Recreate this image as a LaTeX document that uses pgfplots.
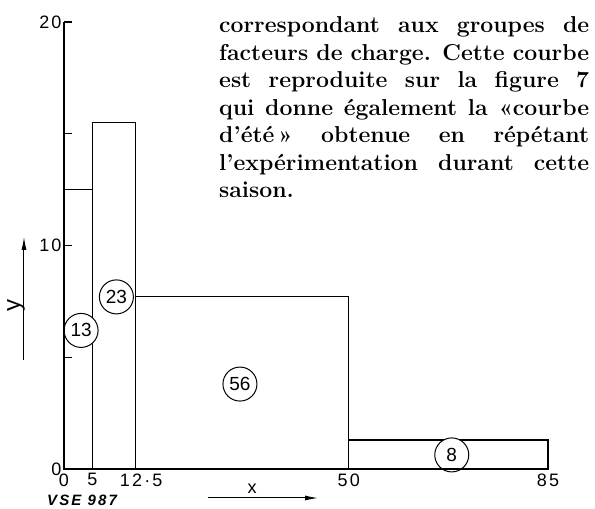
\documentclass[border=0pt]{standalone}
\usepackage{fontspec}
\newfontfamily\labelfont[LetterSpace=12]{Liberation Sans}
\newfontfamily\circfont{Liberation Sans}
\newfontfamily\refont[LetterSpace=14]{Liberation Sans}
\usepackage{pgfplots}
\pgfplotsset{compat=1.18}
\usetikzlibrary{arrows.meta}

\newcommand{\txtline}[1]{\makebox[370bp][s]{#1}}

\begin{document}
\begin{tikzpicture}[x=1bp,y=1bp]
  % page = 595 x 509 bp, axis origin at (64,469) px from top left
  \path[use as bounding box] (-64,-40) rectangle (531,469);
  \begin{axis}[
      at={(0,0)}, anchor=origin,
      scale only axis, width=484bp, height=447bp,
      xmin=0, xmax=85, ymin=0, ymax=20,
      axis lines=left, axis line style={-, line width=1.3bp},
      axis on top,
      xtick={0,5,12.5,50,85},
      xticklabels={0,5,\hspace{12bp}12·5,50,85},
      xtick style={draw=none},
      ytick={0,5,10,15,20},
      yticklabels={0,,10,,20},
      ytick style={black, line width=1.2bp},
      major tick length=8bp, tick align=inside,
      ticklabel style={font=\labelfont\fontsize{18bp}{18bp}\selectfont},
      xticklabel style={yshift=-1bp},
      yticklabel style={xshift=1bp},
      clip=false,
    ]
    \addplot[ybar interval, draw=black, fill=white, line width=1.2bp]
      coordinates {(0,12.5) (5,15.5) (12.5,7.7) (50,1.3) (85,1.3)};
    \tikzset{cnum/.style={circle, draw=black, line width=1bp, fill=white,
        minimum size=34bp, inner sep=0pt,
        font=\circfont\fontsize{19bp}{19bp}\selectfont}}
    \node[cnum] at (axis cs:3.0,6.2) {13};
    \node[cnum] at (axis cs:9.2,7.7) {23};
    \node[cnum] at (axis cs:30.9,3.8) {56};
    \node[cnum] at (axis cs:68.1,0.63) {8};
  \end{axis}

  % axis titles with their arrows
  \node[font=\circfont\fontsize{18bp}{18bp}\selectfont] at (188,-20) {x};
  \draw[line width=1bp, -{Latex[length=13bp,width=5bp]}] (144,-29) -- (254,-29);
  \node[rotate=90, font=\circfont\fontsize{24bp}{24bp}\selectfont] at (-48,163) {y};
  \draw[line width=1bp, -{Latex[length=13bp,width=5bp]}] (-40,109) -- (-40,232);

  \node[anchor=base west, inner sep=0pt,
    font=\refont\bfseries\itshape\fontsize{15bp}{15bp}\selectfont] at (-17,-37) {VSE 987};

  % text column at top right
  \begin{scope}[every node/.style={anchor=base west, inner sep=0pt,
      font=\bfseries\fontsize{23bp}{27.5bp}\selectfont}]
    \node at (155,436)   {\txtline{correspondant aux groupes de}};
    \node at (155,408.5) {\txtline{facteurs de charge. Cette courbe}};
    \node at (155,381)   {\txtline{est reproduite sur la figure 7}};
    \node at (155,353.5) {\txtline{qui donne également la «courbe}};
    \node at (155,326)   {\txtline{d’été\,» obtenue en répétant}};
    \node at (155,298.5) {\txtline{l’expérimentation durant cette}};
    \node at (155,271)   {saison.};
  \end{scope}
\end{tikzpicture}
\end{document}
